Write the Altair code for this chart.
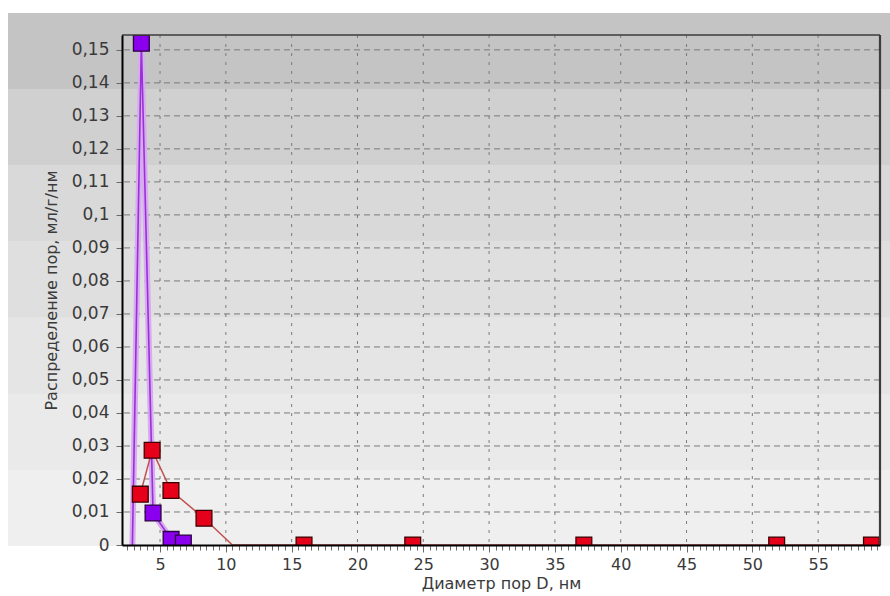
import altair as alt
import pandas as pd

# Pore-size distribution curves (diameter in nm, distribution in ml/g/nm)
violet_d = [2.9, 3.58, 4.47, 5.84, 6.77]
violet_v = [0.0, 0.152, 0.0097, 0.0017, 0.0006]
violet_mark = [False, True, True, True, True]

red_d = [3.5, 4.4, 5.83, 8.34, 10.5, 15.94, 24.2, 37.2, 51.85, 59.05]
red_v = [0.0154, 0.0287, 0.0165, 0.0081, 0.0, 0.0, 0.0, 0.0, 0.0, 0.0]
red_mark = [True, True, True, True, False, True, True, True, True, True]

x_major = [5, 10, 15, 20, 25, 30, 35, 40, 45, 50, 55]
x_minor = [2.5 + 0.5 * i for i in range(115)]
y_ticks = [round(0.01 * i, 2) for i in range(16)]

X_DOMAIN = [2.11, 59.7]
Y_DOMAIN = [0, 0.1545]
W, H = 758, 510

FONT = "DejaVu Sans"
TEXT = "#3a3a3a"

violet = pd.DataFrame({"d": violet_d, "v": violet_v, "m": violet_mark})
red = pd.DataFrame({"d": red_d, "v": red_v, "m": red_mark})

xs = alt.Scale(domain=X_DOMAIN, nice=False, zero=False)
ys = alt.Scale(domain=Y_DOMAIN, nice=False, zero=False)

x_axis = alt.Axis(
    values=x_minor,
    labelExpr="datum.value % 5 === 0 ? format(datum.value, 'd') : ''",
    labelOverlap=False,
    labelFlush=False,
    grid=False,
    domainColor="#000000",
    domainWidth=2,
    tickColor="#6a6a6a",
    tickSize={"condition": {"test": "datum.value % 5 === 0", "value": 7}, "value": 5},
    labelFont=FONT,
    labelFontSize=16,
    labelColor=TEXT,
    labelPadding=4,
    title="Диаметр пор D, нм",
    titleFont=FONT,
    titleFontSize=16,
    titleFontWeight="normal",
    titleColor=TEXT,
    titlePadding=3,
    zindex=1,
)
y_axis = alt.Axis(
    values=y_ticks,
    labelExpr="replace(format(datum.value, '~g'), '.', ',')",
    labelOverlap=False,
    labelFlush=False,
    grid=False,
    domainColor="#000000",
    domainWidth=2,
    tickColor="#6a6a6a",
    tickSize=6,
    labelFont=FONT,
    labelFontSize=17,
    labelColor=TEXT,
    labelPadding=7,
    title="Распределение пор, мл/г/нм",
    titleFont=FONT,
    titleFontSize=16,
    titleFontWeight="normal",
    titleColor=TEXT,
    titlePadding=12,
    zindex=1,
)

X = lambda f: alt.X(f, scale=xs, axis=x_axis)
Y = lambda f: alt.Y(f, scale=ys, axis=y_axis)

# Banded grey backdrop behind the whole figure
bands = ["#c4c4c4", "#d0d0d0", "#d9d9d9", "#dfdfdf", "#e5e5e5", "#eaeaea", "#efefef"]
stops = []
for i, c in enumerate(bands):
    stops.append({"offset": i / len(bands), "color": c})
    stops.append({"offset": (i + 1) / len(bands) - 0.0005, "color": c})
backdrop = alt.Chart(alt.Data(values=[{"k": 1}])).mark_rect(
    fill={"gradient": "linear", "x1": 0, "y1": 0, "x2": 0, "y2": 1, "stops": stops},
    stroke=None,
).encode(
    x=alt.value(-114), x2=alt.value(W + 10), y=alt.value(-22), y2=alt.value(H + 1)
)

vgrid = alt.Chart(pd.DataFrame({"d": x_major})).mark_rule(
    color="#7a7a7a", strokeWidth=1, strokeDash=[3, 6]
).encode(x=X("d:Q"))

hgrid = alt.Chart(pd.DataFrame({"v": y_ticks[1:]})).mark_rule(
    color="#7a7a7a", strokeWidth=1, strokeDash=[6, 4]
).encode(y=Y("v:Q"))

violet_halo = alt.Chart(violet).mark_line(
    color="#d8aaf0", strokeWidth=6, clip=True
).encode(x=X("d:Q"), y=Y("v:Q"), order="d:Q")
violet_line = alt.Chart(violet).mark_line(
    color="#9a30d8", strokeWidth=1.6, clip=True
).encode(x=X("d:Q"), y=Y("v:Q"), order="d:Q")
red_line = alt.Chart(red).mark_line(
    color="#c05050", strokeWidth=1.5, clip=True
).encode(x=X("d:Q"), y=Y("v:Q"), order="d:Q")

violet_pts = alt.Chart(violet).transform_filter("datum.m").mark_square(
    size=250, fill="#8a00ee", stroke="#2a0040", strokeWidth=1.3, opacity=1, clip=True
).encode(x=X("d:Q"), y=Y("v:Q"))
red_pts = alt.Chart(red).transform_filter("datum.m").mark_square(
    size=250, fill="#e6001a", stroke="#3a0000", strokeWidth=1.3, opacity=1, clip=True
).encode(x=X("d:Q"), y=Y("v:Q"))

frame_top = alt.Chart(alt.Data(values=[{"k": 1}])).mark_rule(
    color="#3c3c3c", strokeWidth=1.5
).encode(x=alt.value(0), x2=alt.value(W), y=alt.value(0))
frame_right = alt.Chart(alt.Data(values=[{"k": 1}])).mark_rule(
    color="#3c3c3c", strokeWidth=2.2
).encode(x=alt.value(W), y=alt.value(0), y2=alt.value(H))

chart = alt.layer(
    backdrop, vgrid, hgrid, violet_halo, violet_line, red_line,
    violet_pts, red_pts, frame_top, frame_right,
).properties(
    width=W,
    height=H,
    autosize="none",
    padding={"left": 122, "top": 35, "right": 10, "bottom": 51},
    background="white",
).configure_view(stroke=None)

chart.save("out.html", embed_options={"renderer": "svg", "actions": False})
